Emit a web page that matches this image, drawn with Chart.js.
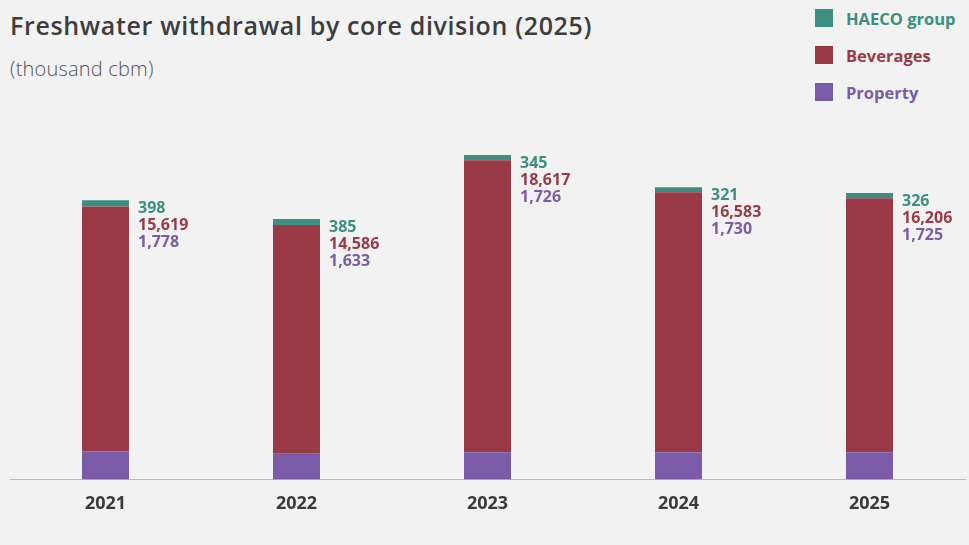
<!DOCTYPE html>
<html>
<head>
<meta charset="utf-8">
<script src="https://cdn.jsdelivr.net/npm/chart.js@4"></script>
<style>
  html, body { margin: 0; padding: 0; background: #f1f2f1; }
  #wrap { position: relative; width: 969px; height: 545px; overflow: hidden; }
  #title { position: absolute; left: 10px; top: 8px; font: 600 25px 'Open Sans', sans-serif; color: #3d3d3d; letter-spacing: 0.65px; white-space: nowrap; }
  #sub { position: absolute; left: 10px; top: 55px; font: 300 20px 'Open Sans', sans-serif; color: #555; letter-spacing: 0.2px; }
  #legend { position: absolute; left: 815px; top: 9px; }
  .lg { display: flex; align-items: center; height: 18px; margin-bottom: 19px; font: bold 16.5px 'Open Sans', sans-serif; }
  .lg i { display: inline-block; width: 18px; height: 18px; margin-right: 13px; }
  canvas { position: absolute; left: 0; top: 0; }
</style>
</head>
<body>
<div id="wrap">
  <div id="title">Freshwater withdrawal by core division (2025)</div>
  <div id="sub">(thousand cbm)</div>
  <div id="legend"></div>
  <canvas id="c" width="969" height="545"></canvas>
</div>
<script>
// 年份與三個事業部的取水量（千立方米）
const years = ['2021', '2022', '2023', '2024', '2025'];
const property = [1778, 1633, 1726, 1730, 1725];
const beverages = [15619, 14586, 18617, 16583, 16206];
const haeco = [398, 385, 345, 321, 326];

const COLORS = {
  haeco: '#3a8f80',
  bev: '#9b3a47',
  prop: '#7a5ca8',
};

// 圖例（由上而下：HAECO / Beverages / Property）
const legendItems = [
  { label: 'HAECO group', color: COLORS.haeco },
  { label: 'Beverages', color: COLORS.bev },
  { label: 'Property', color: COLORS.prop },
];
document.getElementById('legend').innerHTML = legendItems
  .map((it) => `<div class="lg" style="color:${it.color}"><i style="background:${it.color}"></i>${it.label}</div>`)
  .join('');

// 長條右側的數值標籤
const valueLabels = {
  id: 'valueLabels',
  afterDatasetsDraw(chart) {
    const { ctx } = chart;
    const top = chart.getDatasetMeta(2);
    const rows = [
      { data: haeco, color: COLORS.haeco },
      { data: beverages, color: COLORS.bev },
      { data: property, color: COLORS.prop },
    ];
    ctx.save();
    ctx.font = "bold 16px 'Open Sans', sans-serif";
    ctx.textAlign = 'left';
    ctx.textBaseline = 'middle';
    top.data.forEach((bar, i) => {
      const x = bar.x + bar.width / 2 + 9;
      rows.forEach((r, k) => {
        ctx.fillStyle = r.color;
        ctx.fillText(r.data[i].toLocaleString('en-US'), x, bar.y + 8 + k * 17);
      });
    });
    ctx.restore();
  },
};

new Chart(document.getElementById('c'), {
  type: 'bar',
  data: {
    labels: years,
    datasets: [
      { label: 'Property', data: property, backgroundColor: COLORS.prop },
      { label: 'Beverages', data: beverages, backgroundColor: COLORS.bev },
      { label: 'HAECO group', data: haeco, backgroundColor: COLORS.haeco },
    ],
  },
  options: {
    responsive: false,
    animation: false,
    layout: { padding: { top: 103, left: 10, right: 4, bottom: 24 } },
    datasets: { bar: { barPercentage: 0.246, categoryPercentage: 1 } },
    plugins: { legend: { display: false }, tooltip: { enabled: false } },
    scales: {
      x: {
        stacked: true,
        grid: { display: false },
        border: { color: '#bbbbbb', width: 1 },
        ticks: {
          color: '#3a3a3a',
          padding: 6,
          font: { family: "'Open Sans', sans-serif", size: 18, weight: 'bold' },
        },
      },
      y: { stacked: true, display: false, min: 0, max: 24000 },
    },
  },
  plugins: [valueLabels],
});
</script>
</body>
</html>
